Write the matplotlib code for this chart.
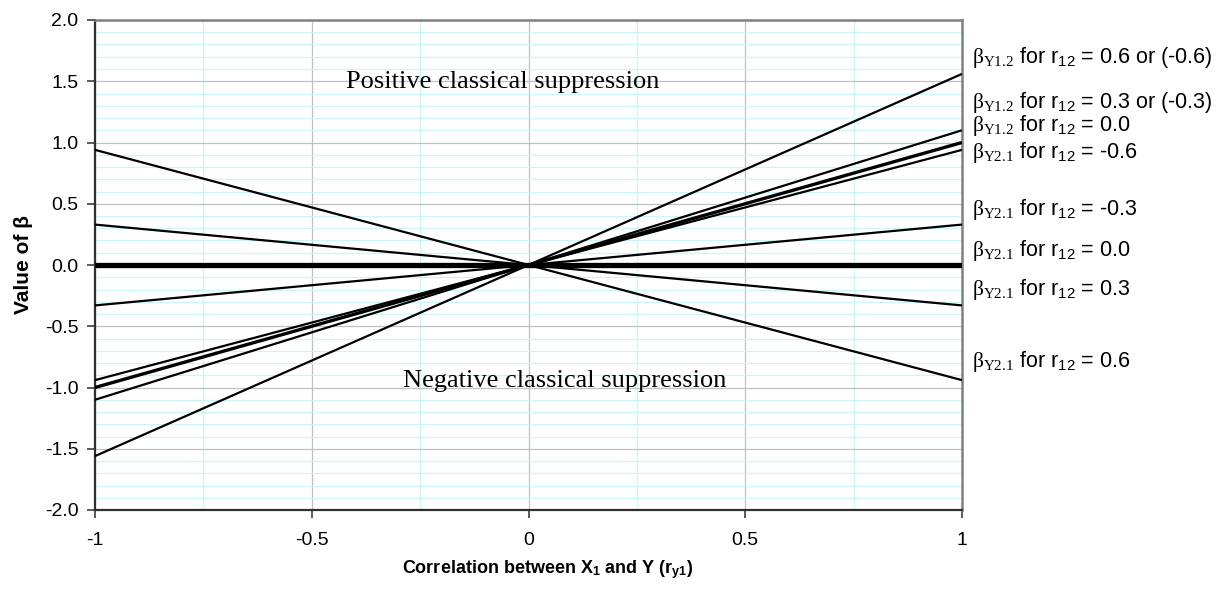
import matplotlib
matplotlib.use("Agg")
import matplotlib.pyplot as plt
from matplotlib.ticker import MultipleLocator, FixedLocator

plt.rcParams['font.family'] = ['Liberation Sans', 'DejaVu Sans']
plt.rcParams['mathtext.fontset'] = 'custom'
plt.rcParams['mathtext.rm'] = 'Liberation Serif'
plt.rcParams['mathtext.it'] = 'Liberation Serif:italic'
plt.rcParams['mathtext.sf'] = 'Liberation Sans'
plt.rcParams['mathtext.bf'] = 'Liberation Sans:bold'

# ---- data ----
r_y1 = [-1.0, 0.0, 1.0]
b_y12_r06 = [-1.56, 0.0, 1.56]
b_y12_r03 = [-1.10, 0.0, 1.10]
b_y12_r00 = [-1.00, 0.0, 1.00]
b_y21_rm06 = [-0.94, 0.0, 0.94]
b_y21_rm03 = [-0.33, 0.0, 0.33]
b_y21_r00 = [0.0, 0.0, 0.0]
b_y21_r03 = [0.33, 0.0, -0.33]
b_y21_r06 = [0.94, 0.0, -0.94]

series = [b_y12_r06, b_y12_r03, b_y12_r00, b_y21_rm06,
          b_y21_rm03, b_y21_r00, b_y21_r03, b_y21_r06]
widths = [1.6, 1.6, 2.4, 1.6, 1.6, 3.8, 1.6, 1.6]

labels = [
    r'$\mathrm{\beta_{Y1.2}}$ for r$_{\mathsf{12}}$ = 0.6 or (-0.6)',
    r'$\mathrm{\beta_{Y1.2}}$ for r$_{\mathsf{12}}$ = 0.3 or (-0.3)',
    r'$\mathrm{\beta_{Y1.2}}$ for r$_{\mathsf{12}}$ = 0.0',
    r'$\mathrm{\beta_{Y2.1}}$ for r$_{\mathsf{12}}$ = -0.6',
    r'$\mathrm{\beta_{Y2.1}}$ for r$_{\mathsf{12}}$ = -0.3',
    r'$\mathrm{\beta_{Y2.1}}$ for r$_{\mathsf{12}}$ = 0.0',
    r'$\mathrm{\beta_{Y2.1}}$ for r$_{\mathsf{12}}$ = 0.3',
    r'$\mathrm{\beta_{Y2.1}}$ for r$_{\mathsf{12}}$ = 0.6',
]
label_y = [1.69, 1.33, 1.14, 0.92, 0.45, 0.12, -0.20, -0.79]

x_ticks = [-1, -0.5, 0, 0.5, 1]
x_ticklabels = ['-1', '-0.5', '0', '0.5', '1']
y_ticks = [-2.0, -1.5, -1.0, -0.5, 0.0, 0.5, 1.0, 1.5, 2.0]

fig = plt.figure(figsize=(12.32, 5.99), dpi=100)
ax = fig.add_axes([95/1232, 1 - 510/599, (962 - 95)/1232, (510 - 20)/599])

for ys, lw in zip(series, widths):
    ax.plot(r_y1, ys, color='black', lw=lw, solid_capstyle='butt', zorder=3)

ax.set_xlim(-1, 1)
ax.set_ylim(-2, 2)
ax.xaxis.set_major_locator(FixedLocator(x_ticks))
ax.set_xticklabels(x_ticklabels)
ax.yaxis.set_major_locator(FixedLocator(y_ticks))
ax.set_yticklabels([f'{v:.1f}' for v in y_ticks])
ax.xaxis.set_minor_locator(MultipleLocator(0.25))
ax.yaxis.set_minor_locator(MultipleLocator(0.1))

ax.grid(which='minor', color='#ccf5f5', lw=0.9, zorder=0)
ax.grid(which='major', color='#c0c0c0', lw=0.9, zorder=1)
ax.set_axisbelow(True)

ax.tick_params(which='minor', length=0)
ax.tick_params(which='major', direction='out', length=6, width=1.2,
               color='#404040', labelsize=14, pad=6)
ax.tick_params(axis='x', pad=10)

for side in ['left', 'bottom']:
    ax.spines[side].set_color('#303030')
    ax.spines[side].set_linewidth(1.6)
for side in ['top', 'right']:
    ax.spines[side].set_color('#808080')
    ax.spines[side].set_linewidth(1.8)

ax.set_xlabel(r'Correlation between X$_\mathbf{1}$ and Y (r$_\mathbf{y1}$)',
              fontsize=13, fontweight='bold')
ax.xaxis.set_label_coords(0.522, -0.098)
ax.set_ylabel('Value of β', fontsize=15, fontweight='bold')
ax.yaxis.set_label_coords(-0.0715, 0.5)

ax.text(-0.422, 1.49, 'Positive classical suppression', family='Liberation Serif',
        fontsize=19, ha='left', va='center')
ax.text(-0.289, -0.95, 'Negative classical suppression', family='Liberation Serif',
        fontsize=19, ha='left', va='center')

for lab, y in zip(labels, label_y):
    ax.text(1.012, y, lab, transform=ax.get_yaxis_transform(), fontsize=15.5,
            ha='left', va='center', clip_on=False)

fig.savefig('out.png', dpi=100)
